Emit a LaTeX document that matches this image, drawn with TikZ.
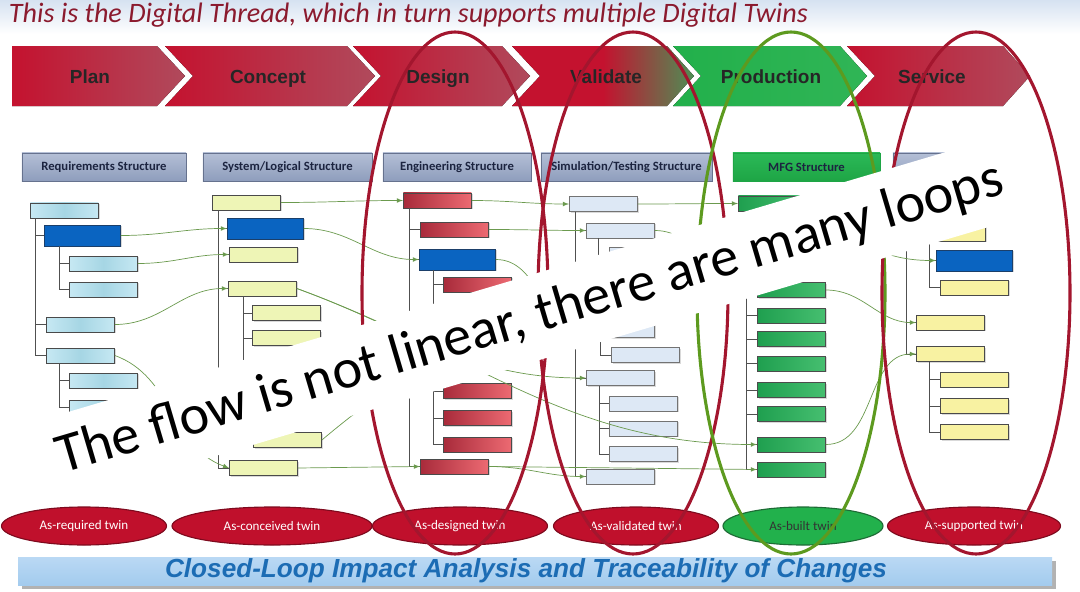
\documentclass[tikz,border=0pt]{standalone}
\usepackage{fontspec}
\setmainfont{Carlito}
\newfontfamily\arialfont{Liberation Sans}
\usepackage{tikz}
\usetikzlibrary{arrows,calc,shapes,shapes.geometric,shadows}
\definecolor{titleband}{HTML}{D6E2F1}
\definecolor{titlered}{HTML}{8B1A2E}
\definecolor{chevred}{HTML}{C4122F}
\definecolor{chevfade}{HTML}{B04A5C}
\definecolor{chevgreen}{HTML}{22B04B}
\definecolor{chevgreenR}{HTML}{30B556}
\definecolor{valgreen}{HTML}{4E8E55}
\definecolor{hdrtop}{HTML}{B4BFD6}
\definecolor{hdrbot}{HTML}{8E9DBC}
\definecolor{hdrline}{HTML}{66728E}
\definecolor{hdrtext}{HTML}{1C2440}
\definecolor{mfgtop}{HTML}{2BB957}
\definecolor{mfgbot}{HTML}{1EA545}
\definecolor{boxline}{HTML}{4A4A4A}
\definecolor{reqfill}{HTML}{C6E8F3}
\definecolor{reqmid}{HTML}{A6D6E4}
\definecolor{sysfill}{HTML}{EEF5B6}
\definecolor{engdark}{HTML}{A82B3B}
\definecolor{englight}{HTML}{EC6A72}
\definecolor{simfill}{HTML}{DDE8F5}
\definecolor{mfgdark}{HTML}{1F9F4F}
\definecolor{mfglight}{HTML}{46BF70}
\definecolor{svcfill}{HTML}{F8F2A2}
\definecolor{hiblue}{HTML}{0A64C1}
\definecolor{hiline}{HTML}{1B3F6A}
\definecolor{treegray}{HTML}{505050}
\definecolor{linkgreen}{HTML}{6B9A4E}
\definecolor{twinred}{HTML}{C0102C}
\definecolor{twinline}{HTML}{7E0A1E}
\definecolor{twingreen}{HTML}{22B14C}
\definecolor{twingreenline}{HTML}{1E6B35}
\definecolor{loopred}{HTML}{A3162E}
\definecolor{loopgreen}{HTML}{5D9A1F}
\definecolor{tracetop}{HTML}{BAD9F4}
\definecolor{tracefill}{HTML}{A3CBEE}
\definecolor{traceblue}{HTML}{1C6CB4}
\tikzset{%
	chevtext/.style = {anchor=base, font=\arialfont\bfseries\fontsize{13.5}{14}\selectfont, text=black!85},
	header/.style   = {draw=hdrline, rectangle, top color=hdrtop, bottom color=hdrbot, minimum height=0.7cm, inner sep=0pt, font=\bfseries\fontsize{9}{10}\selectfont, text=hdrtext},
	treebox/.style  = {draw=boxline, rectangle, line width=0.6pt, minimum width=1.7cm, minimum height=0.375cm, inner sep=0pt, anchor=west, drop shadow={shadow xshift=0.8pt, shadow yshift=-0.8pt, opacity=0.3}},
	reqbox/.style   = {treebox, left color=reqfill, right color=reqfill, middle color=reqmid},
	sysbox/.style   = {treebox, fill=sysfill},
	engbox/.style   = {treebox, left color=engdark, right color=englight},
	simbox/.style   = {treebox, fill=simfill, draw=black!55},
	mfgbox/.style   = {treebox, left color=mfgdark, right color=mfglight, draw=black!70},
	svcbox/.style   = {treebox, fill=svcfill},
	hibox/.style    = {treebox, fill=hiblue, draw=hiline, minimum width=1.9cm, minimum height=0.525cm},
	treeline/.style = {draw=treegray, line width=0.6pt},
	link/.style     = {draw=linkgreen, line width=0.5pt, -latex},
	twin/.style     = {draw=twinline, ellipse, fill=twinred, line width=0.8pt, minimum height=0.95cm, inner sep=0pt, font=\fontsize{9.3}{10}\selectfont, text=white},
	twinloop/.style = {draw=loopred, line width=2.2pt},
	banner/.style   = {fill=white, minimum width=26.3cm, minimum height=2.1cm, inner sep=0pt, font=\fontsize{40}{40}\selectfont, text=black},
}
\begin{document}
\begin{tikzpicture}[x=0.025cm,y=-0.025cm]
	\useasboundingbox (0,0) rectangle (1080,592);
	\fill[top color=titleband, bottom color=white] (0,0) rectangle (1080,34);
	\node[anchor=base west, font=\itshape\fontsize{20}{22}\selectfont, text=titlered] (title) at (4,22) {This is the Digital Thread, which in turn supports multiple Digital Twins};
	
	\fill[left color=chevred, right color=chevfade] (12,46) -- (157,46) -- (185,76) -- (157,106) -- (12,106) -- cycle;
	\fill[left color=chevred, right color=chevfade] (165,46) -- (347,46) -- (375,76) -- (347,106) -- (165,106) -- (193,76) -- cycle;
	\fill[left color=chevred, right color=chevfade] (353,46) -- (502,46) -- (530,76) -- (502,106) -- (353,106) -- (381,76) -- cycle;
	\fill[left color=chevred, right color=valgreen, middle color=chevred] (512,46) -- (667,46) -- (694,76) -- (667,106) -- (512,106) -- (540,76) -- cycle;
	\fill[left color=chevgreen, right color=chevgreenR] (673,46) -- (840,46) -- (867,76) -- (840,106) -- (673,106) -- (701,76) -- cycle;
	\fill[left color=chevred, right color=chevfade] (847,46) -- (1003,46) -- (1030,76) -- (1003,106) -- (847,106) -- (875,76) -- cycle;
	\node[chevtext] (plan) at (90,83) {Plan};
	\node[chevtext] (concept) at (268,83) {Concept};
	\node[chevtext] (design) at (438,83) {Design};
	\node[chevtext] (validate) at (606,83) {Validate};
	\node[chevtext] (production) at (771,83) {Production};
	\node[chevtext] (service) at (932,83) {Service};
	
	\node[header, minimum width=4.1cm] (reqhead) at (104,167) {Requirements Structure};
	\node[header, minimum width=4.225cm] (syshead) at (287.5,167) {System/Logical Structure};
	\node[header, minimum width=3.7cm] (enghead) at (457,167) {Engineering Structure};
	\node[header, minimum width=4.275cm] (simhead) at (626.5,167) {Simulation/Testing Structure};
	\node[header, minimum width=3.675cm, top color=mfgtop, bottom color=mfgbot, draw=mfgbot] (mfghead) at (806.5,167) {MFG Structure};
	\node[header, minimum width=3.3cm] (svchead) at (959,167) {};
	
	\node[reqbox] (R1) at (30,210.5) {};
	\node[hibox] (R2) at (44,235.5) {};
	\node[reqbox] (R3) at (69,263.5) {};
	\node[reqbox] (R4) at (69,289.5) {};
	\node[reqbox] (R5) at (46,324.5) {};
	\node[reqbox] (R6) at (46,355.5) {};
	\node[reqbox] (R7) at (69,380.5) {};
	\node[reqbox] (R8) at (69,407.5) {};
	\foreach \k in {R2,R5,R6} \draw[treeline] ($(R1.south west)+(5,0)$) |- (\k.west);
	\foreach \k in {R3,R4} \draw[treeline] ($(R2.south west)+(15,0)$) |- (\k.west);
	\foreach \k in {R7,R8} \draw[treeline] ($(R6.south west)+(13,0)$) |- (\k.west);
	
	\node[sysbox] (S1) at (212,202.5) {};
	\node[hibox] (S2) at (227,228.5) {};
	\node[sysbox] (S3) at (229,254.5) {};
	\node[sysbox] (S4) at (228,288.5) {};
	\node[sysbox] (S5) at (252,313) {};
	\node[sysbox] (S6) at (252,338) {};
	\node[sysbox] (S7) at (253,440) {};
	\node[sysbox] (S8) at (229,468) {};
	\foreach \k in {S2,S3,S4,S8} \draw[treeline] ($(S1.south west)+(6,0)$) |- (\k.west);
	\foreach \k in {S5,S6,S7} \draw[treeline] ($(S4.south west)+(15,0)$) |- (\k.west);
	
	\node[engbox] (E1) at (403,200.5) {};
	\node[engbox] (E2) at (420,229.5) {};
	\node[hibox] (E3) at (419,259.5) {};
	\node[engbox] (E4) at (443,284.5) {};
	\node[engbox] (E5) at (443,391) {};
	\node[engbox] (E6) at (443,418) {};
	\node[engbox] (E7) at (443,444.5) {};
	\node[engbox] (E8) at (420,466.5) {};
	\foreach \k in {E2,E3,E8} \draw[treeline] ($(E1.south west)+(6,0)$) |- (\k.west);
	\foreach \k in {E4,E5,E6,E7} \draw[treeline] ($(E3.south west)+(14,0)$) |- (\k.west);
	
	\node[simbox] (V1) at (569,204) {};
	\node[simbox] (V2) at (586,230.5) {};
	\node[simbox] (V2a) at (609,255) {};
	\node[simbox] (V3) at (586,330) {};
	\node[simbox] (V4) at (611,355) {};
	\node[simbox] (V5) at (586,378) {};
	\node[simbox] (V6) at (609,403.5) {};
	\node[simbox] (V7) at (609,428.5) {};
	\node[simbox] (V8) at (609,454) {};
	\node[simbox] (V9) at (586,476.5) {};
	\foreach \k in {V2,V3,V5,V9} \draw[treeline] ($(V1.south west)+(6,0)$) |- (\k.west);
	\draw[treeline] ($(V2.south west)+(12,0)$) |- (V2a.west);
	\draw[treeline] ($(V3.south west)+(14,0)$) |- (V4.west);
	\foreach \k in {V6,V7,V8} \draw[treeline] ($(V5.south west)+(13,0)$) |- (\k.west);
	
	\node[mfgbox] (M1) at (738,203.5) {};
	\node[mfgbox] (M2) at (757,290) {};
	\node[mfgbox] (M3) at (757,315.5) {};
	\node[mfgbox] (M4) at (757,339) {};
	\node[mfgbox] (M5) at (757,363.5) {};
	\node[mfgbox] (M6) at (757,390) {};
	\node[mfgbox] (M7) at (757,414) {};
	\node[mfgbox] (M8) at (757,444.5) {};
	\node[mfgbox] (M9) at (757,469.5) {};
	\foreach \k in {M2,M3,M4,M5,M6,M7,M8,M9} \draw[treeline] ($(M1.south west)+(8,0)$) |- (\k.west);
	
	\node[svcbox] (P0) at (898,205) {};
	\node[svcbox] (P1) at (917,233.5) {};
	\node[hibox] (P2) at (936,260.5) {};
	\node[svcbox] (P3) at (940,287.5) {};
	\node[svcbox] (P4) at (916,322.5) {};
	\node[svcbox] (P5) at (916,354) {};
	\node[svcbox] (P6) at (940,379.5) {};
	\node[svcbox] (P7) at (940,406) {};
	\node[svcbox] (P8) at (940,432) {};
	\foreach \k in {P1,P4,P5} \draw[treeline] ($(P0.south west)+(8,0)$) |- (\k.west);
	\foreach \k in {P2,P3} \draw[treeline] ($(P1.south west)+(12,0)$) |- (\k.west);
	\foreach \k in {P6,P7,P8} \draw[treeline] ($(P5.south west)+(13,0)$) |- (\k.west);
	
	\draw[link] (R2.east) to[out=0,in=180] (S2.west);
	\draw[link] (R3.east) to[out=0,in=180] (S3.west);
	\draw[link] (R5.east) to[out=0,in=180] (S4.west);
	\draw[link] (R6.east) to[out=-20,in=160] (S8.west);
	\draw[link] (S1.east) to[out=0,in=180] (E1.west);
	\draw[link] (S2.east) to[out=0,in=180] (E3.west);
	\draw[link] (S4.east) to[out=-20,in=180] (V5.west);
	\draw[link] (S4.east) to[out=-20,in=180] (M8.west);
	\draw[link] (S7.east) to[out=40,in=180] (V3.west);
	\draw[link] (S8.east) -- (E8.west);
	\draw[link] (E1.east) to[out=0,in=180] (V1.west);
	\draw[link] (E2.east) to[out=0,in=180] (V2.west);
	\draw[link] (E3.east) to[out=0,in=180] (V3.west);
	\draw[link] (E8.east) to[out=0,in=180] (V9.west);
	\draw[link] (E8.east) -- (M9.west);
	\draw[link] (V1.east) to[out=0,in=180] (M1.west);
	\draw[link] (V2.east) to[out=0,in=180] (M2.west);
	\draw[link] (M1.east) to[out=-40,in=180] (P2.west);
	\draw[link] (M2.east) to[out=0,in=180] (P4.west);
	\draw[link] (M8.east) to[out=0,in=180] (P5.west);
	
	\node[twin, minimum width=4.125cm] (reqtwin) at (84,526) {As-required twin};
	\node[twin, minimum width=5cm] (contwin) at (272,526) {As-conceived twin};
	\node[twin, minimum width=4.375cm] (destwin) at (460,526) {As-designed twin};
	\node[twin, minimum width=4.125cm] (valtwin) at (636,526) {As-validated twin};
	\node[twin, minimum width=4cm, fill=twingreen, draw=twingreenline, text=black!80] (builttwin) at (803,526) {As-built twin};
	\node[twin, minimum width=4.325cm] (suptwin) at (974,526) {As-supported twin};
	
	\draw[twinloop] (455,293) ellipse [x radius=93, y radius=261];
	\draw[twinloop] (633,293) ellipse [x radius=95, y radius=261];
	\draw[twinloop, draw=loopgreen] (791,293) ellipse [x radius=94, y radius=261];
	\draw[twinloop] (976,293) ellipse [x radius=94, y radius=261];
	
	\node[banner, rotate=16.5] (flow) at (530,319) {The flow is not linear, there are many loops};
	
	\fill[black!30] (22,561) rectangle (1056,589);
	\fill[top color=tracetop, bottom color=tracefill] (18,557) rectangle (1052,585);
	\node[font=\arialfont\bfseries\itshape\fontsize{18.6}{20}\selectfont, text=traceblue] (trace) at (526,571) {Closed-Loop Impact Analysis and Traceability of Changes};
\end{tikzpicture}
\end{document}
